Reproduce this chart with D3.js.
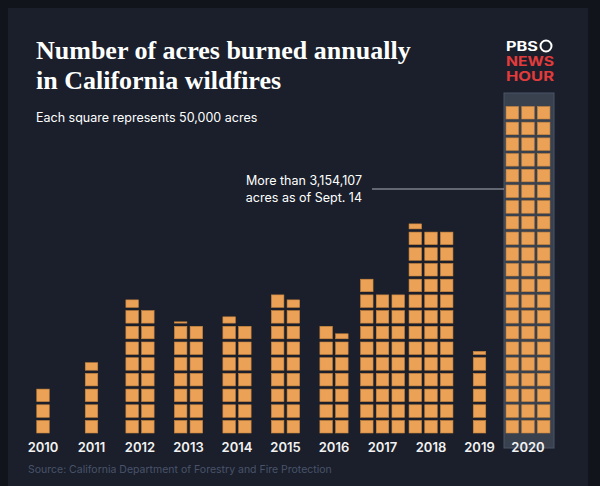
<!DOCTYPE html>
<html><head><meta charset="utf-8">
<script src="https://cdn.jsdelivr.net/npm/d3@7"></script>
<style>body{margin:0;background:#11141b}</style>
</head><body><div id="chart"></div>
<script>
// squares per year (1 square = 50,000 acres), and how many columns each stack uses
const years = ["2010","2011","2012","2013","2014","2015","2016","2017","2018","2019","2020"];
const squares = [3, 4.6, 16.6, 14.1, 14.5, 17.6, 13.4, 28, 39.4, 5.25, 63];
const columns = [1, 1, 2, 2, 2, 2, 2, 3, 3, 1, 3];

const W = 600, H = 486;
const svg = d3.select("#chart").append("svg").attr("width", W).attr("height", H);
svg.append("rect").attr("x", 8).attr("y", 8).attr("width", 580).attr("height", 478).attr("fill", "#1a1f2b");

const x = d3.scalePoint().domain(years).range([43, 528]);
const step = 15.7, size = 12.5, base = 433;
const y = d3.scaleLinear().domain([0, 1]).range([base, base - step]);

// highlight 2020
svg.append("rect").attr("x", x("2020") - 24).attr("y", 93).attr("width", 50).attr("height", 355)
  .attr("fill", "#39414f").attr("stroke", "#4b5566");

const cells = [];
years.forEach((yr, i) => {
  const n = squares[i], c = columns[i];
  const full = Math.floor(n), frac = n - full;
  const total = frac > 0.01 ? full + 1 : full;
  for (let k = 0; k < total; k++) {
    const row = Math.floor(k / c), col = k % c;
    const h = k < full ? 1 : frac;
    cells.push({ yr, row, col, c, h });
  }
});

svg.append("g").selectAll("rect").data(cells).join("rect")
  .attr("x", d => x(d.yr) - (d.c * step - (step - size)) / 2 + d.col * step)
  .attr("y", d => y(d.row) - size * d.h)
  .attr("width", size)
  .attr("height", d => size * d.h)
  .attr("fill", "#eba257")
  .attr("stroke", "#c7843c")
  .attr("stroke-width", 0.6);

svg.append("g").selectAll("text").data(years).join("text")
  .attr("x", d => x(d)).attr("y", 452).attr("text-anchor", "middle")
  .attr("fill", "#f2f2f2").attr("font-family", "Inter, sans-serif").attr("font-weight", 600)
  .attr("font-size", 13).text(d => d);

// titles
const title = svg.append("text").attr("fill", "#fff").attr("font-family", "'Liberation Serif', serif")
  .attr("font-weight", "bold").attr("font-size", 26);
title.append("tspan").attr("x", 36).attr("y", 59).text("Number of acres burned annually");
title.append("tspan").attr("x", 36).attr("y", 89).text("in California wildfires");
svg.append("text").attr("x", 36).attr("y", 122).attr("fill", "#fff")
  .attr("font-family", "Inter, sans-serif").attr("font-size", 12.5).text("Each square represents 50,000 acres");

// annotation
const note = svg.append("text").attr("text-anchor", "end").attr("fill", "#fff")
  .attr("font-family", "Inter, sans-serif").attr("font-size", 12.5);
note.append("tspan").attr("x", 362).attr("y", 185).text("More than 3,154,107");
note.append("tspan").attr("x", 362).attr("y", 202).text("acres as of Sept. 14");
svg.append("line").attr("x1", 372).attr("x2", x("2020") - 24).attr("y1", 189).attr("y2", 189)
  .attr("stroke", "#aab0ba").attr("stroke-width", 1.2);

// logo
const logo = svg.append("g").attr("font-family", "Inter, sans-serif").attr("font-weight", "bold").attr("font-size", 12.5);
logo.append("text").attr("x", 506).attr("y", 51).attr("fill", "#fff")
  .attr("textLength", 32).attr("lengthAdjust", "spacingAndGlyphs").text("PBS");
logo.append("circle").attr("cx", 546).attr("cy", 46).attr("r", 5.5).attr("fill", "none").attr("stroke", "#fff").attr("stroke-width", 2);
logo.append("text").attr("x", 506).attr("y", 66).attr("fill", "#e23b3b")
  .attr("textLength", 48).attr("lengthAdjust", "spacingAndGlyphs").text("NEWS");
logo.append("text").attr("x", 506).attr("y", 81).attr("fill", "#e23b3b")
  .attr("textLength", 48).attr("lengthAdjust", "spacingAndGlyphs").text("HOUR");

svg.append("text").attr("x", 28).attr("y", 473).attr("fill", "#49536a")
  .attr("font-family", "Inter, sans-serif").attr("font-size", 10.5)
  .text("Source: California Department of Forestry and Fire Protection");
</script></body></html>
